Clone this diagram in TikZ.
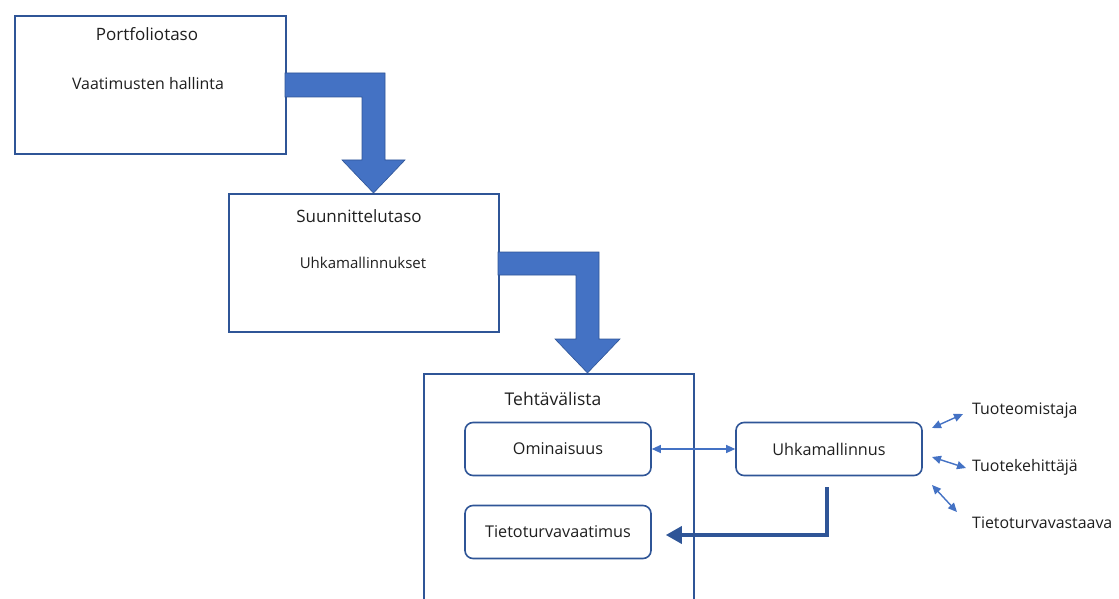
\documentclass[tikz,border=0pt]{standalone}
\usepackage{fontspec}
\setmainfont{Open Sans}
\usetikzlibrary{arrows.meta}
\definecolor{edgeblue}{HTML}{2F5597}
\definecolor{fillblue}{HTML}{4472C4}
\definecolor{ink}{HTML}{1F1F1F}
\newcommand{\fs}[1]{\fontsize{#1}{#1}\selectfont}
\tikzset{
  level/.style={draw=edgeblue, line width=1.6pt, fill=white, anchor=north west},
  title/.style={text=ink, font=\fs{17}},
  sub/.style={text=ink, font=\fs{15.6}},
  item/.style={draw=edgeblue, line width=1.6pt, rounded corners=8pt, minimum width=186pt, minimum height=53pt, text=ink, font=\fs{16.2}},
  label/.style={text=ink, font=\fs{15.9}, anchor=west, inner sep=0pt},
  flow/.style={fill=fillblue, draw=edgeblue, line width=0.6pt},
  link/.style={draw=fillblue, line width=1.1pt, {Triangle[length=9pt,width=8pt]}-{Triangle[length=9pt,width=8pt]}},
  feed/.style={draw=edgeblue, line width=3.5pt, -{Triangle[length=16pt,width=17pt]}}
}
\begin{document}
\begin{tikzpicture}[x=1pt,y=-1pt]
\useasboundingbox (0,0) rectangle (1119,599);
\clip (0,0) rectangle (1119,599);

% levels
\node[level, minimum width=271pt, minimum height=138pt] (port) at (14,15) {};
\node[title] (porttitle) at (147,34) {Portfoliotaso};
\node[sub, font=\fs{15.9}] (porttext) at (148,84) {Vaatimusten hallinta};

\node[level, minimum width=270pt, minimum height=138pt] (plan) at (228,193) {};
\node[title] (plantitle) at (359,216) {Suunnittelutaso};
\node[sub, font=\fs{15}] (plantext) at (363,263) {Uhkamallinnukset};

\node[level, minimum width=270pt, minimum height=260pt] (tasks) at (423,373) {};
\node[title, font=\fs{17.5}] (taskstitle) at (553,399) {Tehtävälista};

% bent block arrows between levels
\path[flow] (285,73) -- (385,73) -- (385,160) -- (405,160) -- (373.5,193)
  -- (342,160) -- (362,160) -- (362,97) -- (285,97) -- cycle;
\path[flow] (498,252) -- (599,252) -- (599,339) -- (620,339) -- (587.5,373)
  -- (555,339) -- (576,339) -- (576,275) -- (498,275) -- cycle;

% items
\node[item] (feat) at (558,449) {Ominaisuus};
\node[item] (req) at (558,532) {Tietoturvavaatimus};
\node[item] (threat) at (829,449) {Uhkamallinnus};

\draw[link] (feat.east) -- (threat.west);

\coordinate (drop) at (827,487);
\coordinate (bend) at (827,535);
\draw[feed, shorten >=14pt] (drop) -- (bend) -- (req.east |- bend);

% roles
\node[label] (owner) at (972,411) {Tuoteomistaja};
\node[label] (dev) at (972,467) {Tuotekehittäjä};
\node[label] (sec) at (972,523) {Tietoturvavastaava};
\coordinate (a1) at (932,428);
\coordinate (a2) at (932,457);
\coordinate (a3) at (932,485);
\coordinate (b1) at (963,414);
\coordinate (b2) at (966,468);
\coordinate (b3) at (957,512);
\draw[link, line width=1.4pt] (a1) -- (b1);
\draw[link, line width=1.4pt] (a2) -- (b2);
\draw[link, line width=1.4pt] (a3) -- (b3);
\end{tikzpicture}
\end{document}
